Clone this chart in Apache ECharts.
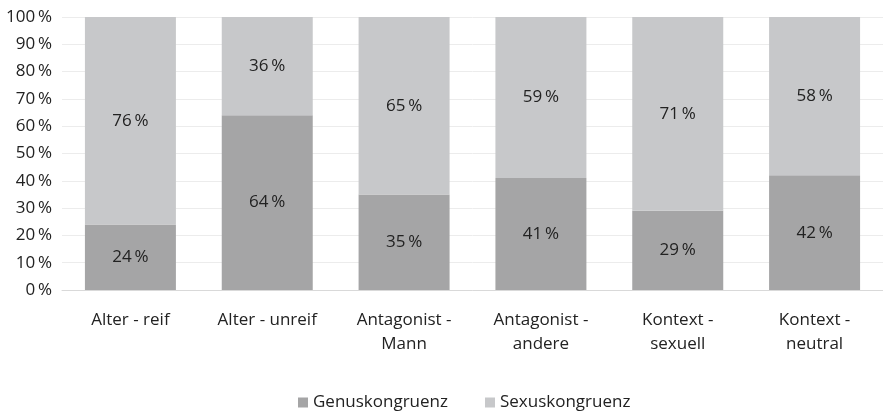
<!DOCTYPE html>
<html>
<head>
<meta charset="utf-8">
<style>
  html, body { margin: 0; padding: 0; background: #fff; }
  #chart { width: 883px; height: 417px; }
</style>
<script src="https://cdn.jsdelivr.net/npm/echarts@6/dist/echarts.min.js"></script>
</head>
<body>
<div id="chart"></div>
<script>
// Daten
var categories = ["Alter - reif", "Alter - unreif", "Antagonist -\nMann", "Antagonist -\nandere", "Kontext -\nsexuell", "Kontext -\nneutral"];
var genus = [24, 64, 35, 41, 29, 42];
var sexus = [76, 36, 65, 59, 71, 58];
var yTicks = [0, 10, 20, 30, 40, 50, 60, 70, 80, 90, 100];

(function () {
    var myChart = echarts.init(document.getElementById("chart"));
    var font = "'Open Sans', sans-serif";
    var pct = function (v) { return Math.round(v) + "\u2009%"; };
    var option = {
        animation: false,
        textStyle: { fontFamily: font },
        color: ["#a5a5a6", "#c7c8ca"],
        grid: { left: 62, right: 0, top: 17, bottom: 127 },
        legend: {
            bottom: 1,
            left: 293,
            itemWidth: 10,
            itemHeight: 10,
            itemGap: 37,
            icon: "rect",
            textStyle: { color: "#222", fontSize: 17, fontFamily: font },
            data: ["Genuskongruenz", "Sexuskongruenz"]
        },
        xAxis: {
            type: "category",
            data: categories,
            axisTick: { show: false },
            axisLine: { lineStyle: { color: "#d9d9d9", width: 1 } },
            axisLabel: { color: "#222", fontSize: 17, fontFamily: font, margin: 18, lineHeight: 24 }
        },
        yAxis: {
            type: "value",
            min: yTicks[0],
            max: yTicks[yTicks.length - 1],
            interval: 10,
            axisLine: { show: false },
            axisTick: { show: false },
            axisLabel: { color: "#222", fontSize: 17, fontFamily: font, margin: 10, formatter: pct },
            splitLine: { lineStyle: { color: "#ececec", width: 1 } }
        },
        series: [
            {
                name: "Genuskongruenz",
                type: "bar",
                stack: "gesamt",
                barWidth: "66.5%",
                data: genus,
                label: { show: true, position: "inside", color: "#222", fontSize: 17, fontFamily: font, formatter: function (p) { return pct(p.value); } }
            },
            {
                name: "Sexuskongruenz",
                type: "bar",
                stack: "gesamt",
                barWidth: "66.5%",
                data: sexus,
                label: { show: true, position: "inside", color: "#222", fontSize: 17, fontFamily: font, formatter: function (p) { return pct(p.value); } }
            }
        ]
    };
    myChart.setOption(option);
    window.addEventListener("resize", function () {
        myChart.resize();
    });
})();
</script>
</body>
</html>
